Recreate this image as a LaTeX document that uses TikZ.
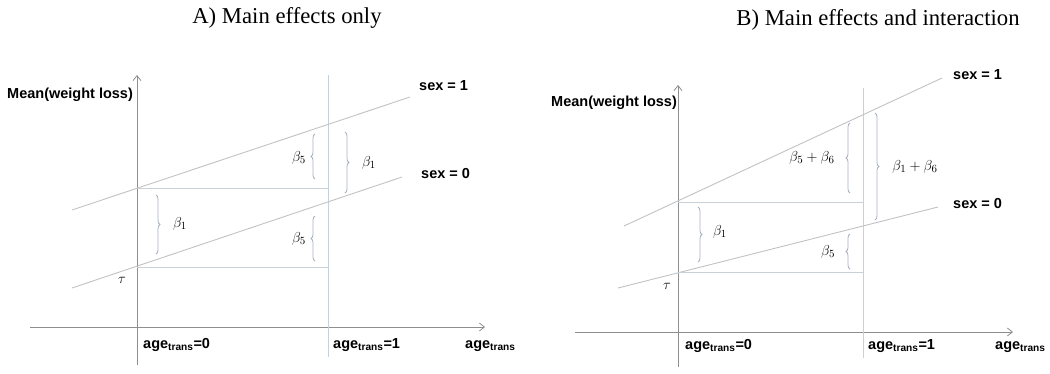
\documentclass[tikz,border=0pt]{standalone}
\usepackage{fontspec}
\setmainfont{Liberation Serif}
\setsansfont{Liberation Sans}
\usetikzlibrary{arrows.meta, decorations.pathreplacing}

\definecolor{axisgray}{HTML}{8E8E8E}
\definecolor{linegray}{HTML}{C2C2C2}
\definecolor{guidegray}{HTML}{C8D0D8}
\definecolor{bracegray}{HTML}{A8B0BE}

\begin{document}
\begin{tikzpicture}[
  x=1pt, y=-1pt,
  axis/.style={draw=axisgray, line width=0.8pt, -{Straight Barb[length=5pt, width=8pt]}},
  trend/.style={draw=linegray, line width=0.9pt},
  guide/.style={draw=guidegray, line width=0.8pt},
  brace/.style={draw=bracegray, line width=0.8pt, decorate, decoration={brace, amplitude=4pt}},
  title/.style={font=\fontsize{22.7}{26}\selectfont, inner sep=0pt},
  lbl/.style={font=\sffamily\bfseries\fontsize{14.5}{16}\selectfont, inner sep=0pt},
  coef/.style={font=\fontsize{15.5}{17}\selectfont, inner sep=0pt}
]
\useasboundingbox (0,0) rectangle (1050,373);

% titles
\node[title, anchor=base] (titleA) at (287,23) {A) Main effects only};
\node[title, anchor=base] (titleB) at (878,25) {B) Main effects and interaction};

% ---------- panel A ----------
\coordinate (yA0) at (137,365);
\coordinate (yA1) at (137,75);
\coordinate (xA0) at (30,327);
\coordinate (xA1) at (485,327);
\coordinate (vA0) at (328,75);
\coordinate (vA1) at (328,357);
\coordinate (mA0) at (72,210);
\coordinate (mA1) at (410,97);
\coordinate (fA0) at (72,288);
\coordinate (fA1) at (402,177);
\coordinate (iA1) at (137,188);
\coordinate (iA0) at (137,267);
\coordinate (hA1) at (328,188);
\coordinate (hA0) at (328,267);

\draw[axis] (xA0) -- (xA1);
\draw[axis] (yA0) -- (yA1);
\draw[guide] (vA0) -- (vA1);
\draw[trend] (mA0) -- (mA1);
\draw[trend] (fA0) -- (fA1);
\draw[guide] (iA1) -- (hA1);
\draw[guide] (iA0) -- (hA0);

\draw[brace] (315,179) -- (315,134);
\draw[brace] (345,132) -- (345,193);
\draw[brace] (156,195) -- (156,254);
\draw[brace] (315,261) -- (315,216);

\node[coef] (b5uA) at (299,158) {$\beta_5$};
\node[coef] (b1rA) at (369,163) {$\beta_1$};
\node[coef] (b1lA) at (180,224) {$\beta_1$};
\node[coef] (b5lA) at (299,239) {$\beta_5$};
\node[coef] (tauA) at (122,280) {$\tau$};

\node[lbl, anchor=base west] (meanA) at (7,98) {Mean(weight loss)};
\node[lbl, anchor=base west] (sex1A) at (419,90) {sex = 1};
\node[lbl, anchor=base west] (sex0A) at (421,178) {sex = 0};
\node[lbl, anchor=base west] (age0A) at (143,348) {age\textsubscript{trans}=0};
\node[lbl, anchor=base west] (age1A) at (333,348) {age\textsubscript{trans}=1};
\node[lbl, anchor=base west] (ageA) at (465,348) {age\textsubscript{trans}};

% ---------- panel B ----------
\coordinate (yB0) at (678,367);
\coordinate (yB1) at (678,85);
\coordinate (xB0) at (575,332);
\coordinate (xB1) at (1013,332);
\coordinate (vB0) at (863,88);
\coordinate (vB1) at (863,358);
\coordinate (mB0) at (624,226);
\coordinate (mB1) at (942,78);
\coordinate (fB0) at (618,288);
\coordinate (fB1) at (938,207);
\coordinate (iB1) at (678,202);
\coordinate (iB0) at (678,272);
\coordinate (hB1) at (863,202);
\coordinate (hB0) at (863,272);

\draw[axis] (xB0) -- (xB1);
\draw[axis] (yB0) -- (yB1);
\draw[guide] (vB0) -- (vB1);
\draw[trend] (mB0) -- (mB1);
\draw[trend] (fB0) -- (fB1);
\draw[guide] (iB1) -- (hB1);
\draw[guide] (iB0) -- (hB0);

\draw[brace] (850,193) -- (850,123);
\draw[brace] (875,113) -- (875,220);
\draw[brace] (698,207) -- (698,262);
\draw[brace] (850,269) -- (850,234);

\node[coef] (b56B) at (812,158) {$\beta_5+\beta_6$};
\node[coef] (b16B) at (915,167) {$\beta_1+\beta_6$};
\node[coef] (b1lB) at (720,232) {$\beta_1$};
\node[coef] (b5lB) at (828,252) {$\beta_5$};
\node[coef] (tauB) at (667,286) {$\tau$};

\node[lbl, anchor=base west] (meanB) at (551,106) {Mean(weight loss)};
\node[lbl, anchor=base west] (sex1B) at (953,79) {sex = 1};
\node[lbl, anchor=base west] (sex0B) at (953,208) {sex = 0};
\node[lbl, anchor=base west] (age0B) at (685,349) {age\textsubscript{trans}=0};
\node[lbl, anchor=base west] (age1B) at (868,349) {age\textsubscript{trans}=1};
\node[lbl, anchor=base west] (ageB) at (995,349) {age\textsubscript{trans}};
\end{tikzpicture}
\end{document}
